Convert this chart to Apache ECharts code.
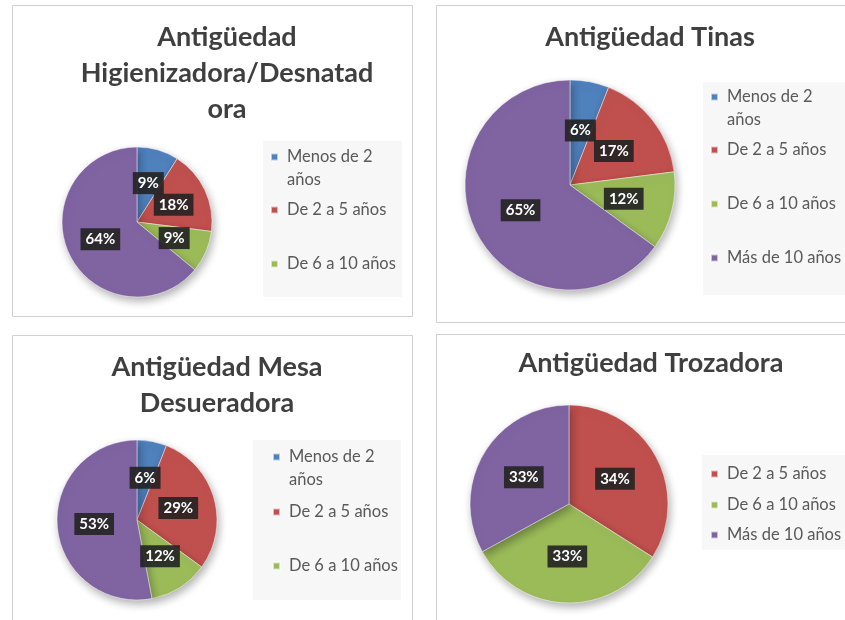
<!DOCTYPE html>
<html>
<head>
<meta charset="utf-8">
<script src="https://cdn.jsdelivr.net/npm/echarts@6/dist/echarts.min.js"></script>
<style>
html, body { margin: 0; padding: 0; background: #ffffff; }
#chart { width: 845px; height: 620px; }
</style>
</head>
<body>
<div id="chart"></div>
<script>
// datos (porcentajes)
var categories = ['Menos de 2 años', 'De 2 a 5 años', 'De 6 a 10 años', 'Más de 10 años']
var higienizadora = [9, 18, 9, 64]
var tinas = [6, 17, 12, 65]
var mesa = [6, 29, 12, 53]
var trozadora = [null, 34, 33, 33]
var titles = ['Antigüedad\nHigienizadora/Desnatad\nora', 'Antigüedad Tinas', 'Antigüedad Mesa\nDesueradora', 'Antigüedad Trozadora']
// categorías que muestra cada leyenda (la primera está recortada en el original)
var legendShown = [[0, 1, 2], [0, 1, 2, 3], [0, 1, 2], [1, 2, 3]]

var colors = ['#4F81BD', '#C0504D', '#9BBB59', '#8064A2']
var font = 'Lato, "Open Sans", sans-serif'

// posiciones de cada panel
var panels = [
  {box: [12, 5, 400, 311], titleX: 222, titleTop: 14, center: [137, 222], r: 75,
    legBox: [263, 141, 139, 156], legX: 270, legY: [157, 210, 264]},
  {box: [436, 5, 420, 317], titleX: 645, titleTop: 14, center: [570, 185], r: 105,
    legBox: [703, 82, 150, 213], legX: 710, legY: [97, 150, 204, 258]},
  {box: [12, 335, 400, 300], titleX: 212, titleTop: 344, center: [137, 520], r: 80,
    legBox: [253, 440, 148, 160], legX: 272, legY: [457, 512, 566]},
  {box: [436, 334, 420, 300], titleX: 646, titleTop: 340, center: [569, 504], r: 99,
    legBox: [702, 455, 150, 95], legX: 710, legY: [474, 505, 535]}
]
var values = [higienizadora, tinas, mesa, trozadora]

var chart = echarts.init(document.getElementById('chart'))

var title = []
var series = []
var legend = []
var graphic = []

panels.forEach(function (p, i) {
  graphic.push({
    type: 'rect', shape: {x: p.box[0] + 0.5, y: p.box[1] + 0.5, width: p.box[2], height: p.box[3]},
    style: {fill: '#ffffff', stroke: '#D0D0D0', lineWidth: 1}, z: 0
  })
  graphic.push({
    type: 'rect', shape: {x: p.legBox[0], y: p.legBox[1], width: p.legBox[2], height: p.legBox[3]},
    style: {fill: '#F7F7F7'}, z: 1
  })
  title.push({
    text: titles[i],
    left: p.titleX,
    top: p.titleTop,
    textAlign: 'center',
    textStyle: {fontFamily: font, fontSize: 27, fontWeight: 'bold', color: '#3F3F3F', lineHeight: 36}
  })
  var data = []
  values[i].forEach(function (v, k) {
    if (v === null) return
    data.push({name: categories[k], value: v, itemStyle: {color: colors[k]}})
  })
  series.push({
    type: 'pie',
    center: p.center,
    radius: p.r,
    startAngle: 90,
    clockwise: true,
    avoidLabelOverlap: false,
    labelLayout: {hideOverlap: false},
    data: data,
    itemStyle: {
      borderColor: 'rgba(255,255,255,0.6)',
      borderWidth: 0.8,
      shadowBlur: 8,
      shadowOffsetX: 2,
      shadowOffsetY: 4,
      shadowColor: 'rgba(0,0,0,0.3)'
    },
    label: {
      show: true,
      position: 'inside',
      formatter: function (prm) { return prm.value + '%' },
      color: '#ffffff',
      fontFamily: font,
      fontSize: 15,
      fontWeight: 'bold',
      backgroundColor: 'rgba(34,34,34,0.9)',
      padding: [4, 5, 3, 5]
    },
    labelLine: {show: false},
    emphasis: {disabled: true}
  })
  legendShown[i].forEach(function (k, j) {
    var name = categories[k]
    var twoLines = name === 'Menos de 2 años'
    legend.push({
      data: [name],
      left: p.legX,
      top: twoLines ? p.legY[j] - 34.5 : p.legY[j] - 11.5,
      padding: 0,
      itemWidth: 7,
      itemHeight: 7,
      icon: 'rect',
      selectedMode: false,
      formatter: function (n) {
        return n === 'Menos de 2 años' ? ' \nMenos de 2\naños' : n
      },
      textStyle: {fontFamily: font, fontSize: 16.5, color: '#595959', lineHeight: 23, padding: [0, 0, 0, 4]}
    })
  })
})

chart.setOption({
  animation: false,
  backgroundColor: '#ffffff',
  title: title,
  legend: legend,
  graphic: graphic,
  series: series
})
</script>
</body>
</html>
